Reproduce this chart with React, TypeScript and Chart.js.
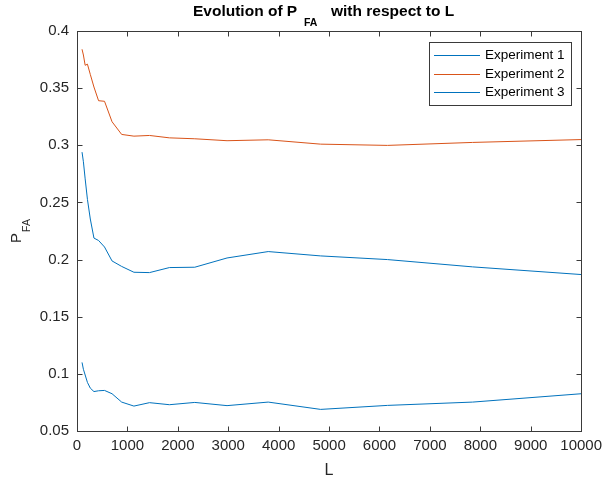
import React, { useEffect, useRef } from "react";
import { Chart, registerables } from "chart.js";

Chart.register(...registerables);

const L_VALUES = [100, 127, 162, 207, 264, 336, 428, 546, 695, 886, 1129, 1438, 1833, 2336, 2976, 3793, 4833, 6158, 7848, 10000];
const EXP1 = [0.294, 0.2856, 0.2706, 0.2527, 0.2355, 0.2188, 0.2167, 0.211, 0.1988, 0.194, 0.1889, 0.1886, 0.193, 0.1933, 0.2014, 0.207, 0.2032, 0.2, 0.1936, 0.1869];
const EXP2 = [0.384, 0.379, 0.37, 0.371, 0.362, 0.351, 0.339, 0.3385, 0.3206, 0.3095, 0.308, 0.3086, 0.3065, 0.3057, 0.304, 0.3048, 0.301, 0.2999, 0.3025, 0.305];
const EXP3 = [0.11, 0.104, 0.099, 0.0925, 0.0875, 0.0845, 0.0852, 0.0855, 0.0826, 0.0753, 0.0718, 0.0748, 0.073, 0.075, 0.0722, 0.0753, 0.0689, 0.0724, 0.0753, 0.0826];
const SERIES_NAMES = ["Experiment 1", "Experiment 2", "Experiment 3"];
const SERIES_COLORS = ["#0072BD", "#D95319", "#0072BD"];
const X_TICKS = [0, 1000, 2000, 3000, 4000, 5000, 6000, 7000, 8000, 9000, 10000];
const Y_TICKS = [0.05, 0.1, 0.15, 0.2, 0.25, 0.3, 0.35, 0.4];

const FONT = "'Liberation Sans', Arial, Helvetica, sans-serif";
const AXIS_COLOR = "#3a3a3a";

const decorPlugin = {
  id: "matlabDecor",
  afterDraw(chart: any) {
    const ctx = chart.ctx as CanvasRenderingContext2D;
    const ca = chart.chartArea;
    const xs = chart.scales.x;
    const ys = chart.scales.y;
    const L = Math.round(ca.left) + 0.5;
    const R = Math.round(ca.right) + 0.5;
    const T = Math.round(ca.top) + 0.5;
    const B = Math.round(ca.bottom) + 0.5;
    ctx.save();
    ctx.strokeStyle = AXIS_COLOR;
    ctx.lineWidth = 1;
    ctx.strokeRect(L, T, R - L, B - T);
    const tl = 5;
    ctx.beginPath();
    X_TICKS.forEach((v) => {
      const px = Math.round(xs.getPixelForValue(v)) + 0.5;
      ctx.moveTo(px, B);
      ctx.lineTo(px, B - tl);
      ctx.moveTo(px, T);
      ctx.lineTo(px, T + tl);
    });
    Y_TICKS.forEach((v) => {
      const py = Math.round(ys.getPixelForValue(v)) + 0.5;
      ctx.moveTo(L, py);
      ctx.lineTo(L + tl, py);
      ctx.moveTo(R, py);
      ctx.lineTo(R - tl, py);
    });
    ctx.stroke();

    // title with subscript
    const cx = (ca.left + ca.right) / 2;
    const mainFont = `bold 15.5px ${FONT}`;
    const subFont = `bold 10.5px ${FONT}`;
    ctx.fillStyle = "#000";
    ctx.textBaseline = "alphabetic";
    ctx.textAlign = "left";
    ctx.font = mainFont;
    ctx.fillText("Evolution of P", 193, 16);
    ctx.font = subFont;
    ctx.fillText("FA", 304, 25.5);
    ctx.font = mainFont;
    ctx.fillText("with respect to L", 331, 16);

    // x label
    ctx.fillStyle = "#262626";
    ctx.font = `16px ${FONT}`;
    ctx.textAlign = "center";
    ctx.fillText("L", cx, 475);

    // y label rotated with subscript
    const cy = (ca.top + ca.bottom) / 2;
    ctx.save();
    ctx.translate(20.5, cy);
    ctx.rotate(-Math.PI / 2);
    ctx.textAlign = "left";
    ctx.font = `15px ${FONT}`;
    const pw = ctx.measureText("P").width;
    ctx.font = `10.5px ${FONT}`;
    const fw = ctx.measureText("FA").width;
    const total = pw + fw + 1;
    ctx.font = `15px ${FONT}`;
    ctx.fillText("P", -total / 2, 0);
    ctx.font = `10.5px ${FONT}`;
    ctx.fillText("FA", -total / 2 + pw + 1, 9.5);
    ctx.restore();

    // legend
    const lx = 429.5, ly = 42.5, lw = 142, lh = 63;
    ctx.fillStyle = "#fff";
    ctx.fillRect(lx, ly, lw, lh);
    ctx.strokeStyle = AXIS_COLOR;
    ctx.strokeRect(lx, ly, lw, lh);
    const rows = [55, 73.5, 92];
    ctx.font = `13.5px ${FONT}`;
    ctx.textAlign = "left";
    ctx.textBaseline = "middle";
    SERIES_NAMES.forEach((name, i) => {
      const y = rows[i];
      ctx.strokeStyle = SERIES_COLORS[i];
      ctx.beginPath();
      ctx.moveTo(434, Math.round(y) + 0.5);
      ctx.lineTo(480, Math.round(y) + 0.5);
      ctx.stroke();
      ctx.fillStyle = "#000";
      ctx.fillText(name, 485, y + 0.5);
    });
    ctx.restore();
  },
};

export default function App() {
  const ref = useRef<HTMLCanvasElement | null>(null);
  useEffect(() => {
    document.body.style.margin = "0";
    const canvas = ref.current;
    if (!canvas) return;
    const series = [EXP1, EXP2, EXP3];
    const chart = new Chart(canvas, {
      type: "line",
      data: {
        datasets: series.map((vals, i) => ({
          label: SERIES_NAMES[i],
          data: L_VALUES.map((x, j) => ({ x, y: vals[j] })),
          borderColor: SERIES_COLORS[i],
          backgroundColor: SERIES_COLORS[i],
          borderWidth: 1,
          pointRadius: 0,
          tension: 0,
          fill: false,
        })),
      },
      options: {
        responsive: false,
        animation: false,
        devicePixelRatio: 1,
        layout: { padding: { left: 0, right: 25, top: 31, bottom: 0 } },
        plugins: {
          legend: { display: false },
          title: { display: false },
          tooltip: { enabled: false },
        },
        scales: {
          x: {
            type: "linear",
            min: 0,
            max: 10000,
            afterFit: (s: any) => { s.height = 49; },
            afterBuildTicks: (s: any) => { s.ticks = X_TICKS.map((v) => ({ value: v })); },
            grid: { display: false, drawTicks: false },
            border: { display: false },
            ticks: {
              font: { family: FONT, size: 15 },
              color: "#262626",
              padding: 6,
              maxRotation: 0,
              callback: (v: any) => String(v),
            },
          },
          y: {
            type: "linear",
            min: 0.05,
            max: 0.4,
            afterFit: (s: any) => { s.width = 77; },
            afterBuildTicks: (s: any) => { s.ticks = Y_TICKS.map((v) => ({ value: v })); },
            grid: { display: false, drawTicks: false },
            border: { display: false },
            ticks: {
              font: { family: FONT, size: 15 },
              color: "#262626",
              padding: 8,
              callback: (v: any) => String(+Number(v).toFixed(2)),
            },
          },
        },
      },
      plugins: [decorPlugin],
    });
    return () => chart.destroy();
  }, []);
  return (
    <div style={{ width: 608, height: 480, background: "#fff" }}>
      <canvas ref={ref} width={608} height={480} style={{ display: "block" }} />
    </div>
  );
}
